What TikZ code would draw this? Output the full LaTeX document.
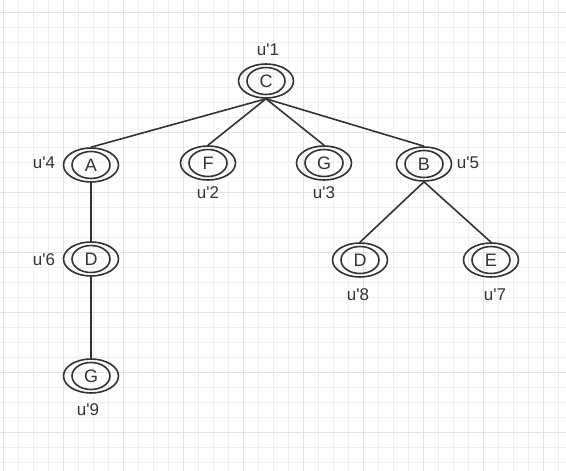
\documentclass[tikz,border=0pt]{standalone}
\usepackage{fontspec}
\setmainfont{Liberation Sans}
\usetikzlibrary{shapes.geometric}
\definecolor{ink}{HTML}{333333}
\definecolor{gridminor}{HTML}{EFEFEF}
\definecolor{gridmajor}{HTML}{E2E2E2}
\tikzset{
  vertex/.style={ellipse, draw=ink, line width=1.6pt, minimum width=55pt,
    minimum height=34pt, inner sep=0pt, text=ink,
    font=\fontsize{18}{21}\selectfont,
    path picture={\draw[ink, line width=1.6pt] (path picture bounding box.center)
      ellipse (19pt and 13.5pt);}},
  tag/.style={text=ink, inner sep=0pt, font=\fontsize{17}{20}\selectfont},
  branch/.style={draw=ink, line width=1.6pt}
}
\newcommand{\lbl}[1]{u\textquotesingle#1}
\begin{document}
\begin{tikzpicture}[x=1pt, y=-1pt]
    \useasboundingbox (0,0) rectangle (566,471);
    % Grid
    \foreach \x in {3,18,...,565} \draw[gridminor, line width=1pt] (\x,0) -- (\x,471);
    \foreach \y in {12,27,...,470} \draw[gridminor, line width=1pt] (0,\y) -- (566,\y);
    \foreach \x in {3,63,...,565} \draw[gridmajor, line width=1pt] (\x,0) -- (\x,471);
    \foreach \y in {12,72,...,470} \draw[gridmajor, line width=1pt] (0,\y) -- (566,\y);
    % Nodes
    \node[vertex] (C) at (266,81) {C};
    \node[vertex] (A) at (91,165) {A};
    \node[vertex] (F) at (208,163) {F};
    \node[vertex] (G1) at (324,163) {G};
    \node[vertex] (B) at (424,164) {B};
    \node[vertex] (D1) at (91,259) {D};
    \node[vertex] (D2) at (360,260) {D};
    \node[vertex] (E) at (491,260) {E};
    \node[vertex] (G2) at (91,376) {G};
    % Labels
    \node[tag] (l1) at (268,50) {\lbl{1}};
    \node[tag] (l4) at (44,163) {\lbl{4}};
    \node[tag] (l2) at (208,193) {\lbl{2}};
    \node[tag] (l3) at (324,193) {\lbl{3}};
    \node[tag] (l5) at (468,163) {\lbl{5}};
    \node[tag] (l6) at (44,260) {\lbl{6}};
    \node[tag] (l8) at (358,295) {\lbl{8}};
    \node[tag] (l7) at (495,295) {\lbl{7}};
    \node[tag] (l9) at (88,410) {\lbl{9}};
    % Edges
    \draw[branch] (C.south) -- (A.north);
    \draw[branch] (C.south) -- (F.north);
    \draw[branch] (C.south) -- (G1.north);
    \draw[branch] (C.south) -- (B.north);
    \draw[branch] (A) -- (D1);
    \draw[branch] (D1) -- (G2);
    \draw[branch] (B.south) -- (D2.north);
    \draw[branch] (B.south) -- (E.north);
\end{tikzpicture}
\end{document}
